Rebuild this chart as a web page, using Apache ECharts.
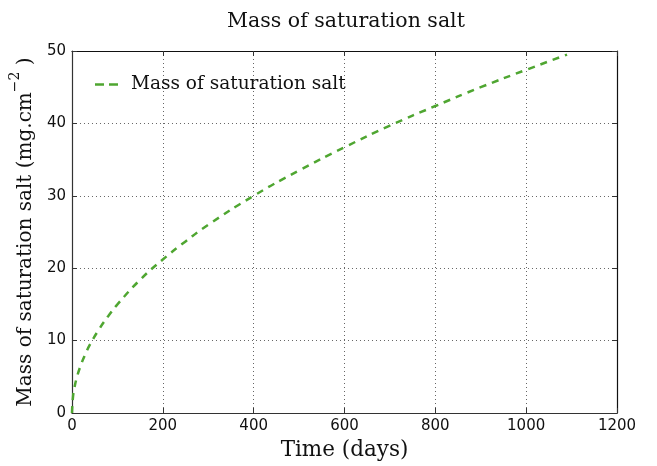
<!DOCTYPE html>
<html>
<head>
<meta charset="utf-8">
<script src="https://cdn.jsdelivr.net/npm/echarts@6/dist/echarts.min.js"></script>
<style>html,body{margin:0;padding:0;background:#fff}#c{width:657px;height:466px}</style>
</head>
<body>
<div id="c"></div>
<script>
// Data
const timeDays = [0, 2, 5, 10, 20, 30, 40, 60, 80, 100, 150, 200, 250, 300, 400, 500, 600, 700, 800, 900, 1000, 1090];
const saltMass = [0, 2.1, 3.35, 4.75, 6.7, 8.2, 9.5, 11.6, 13.4, 15.0, 18.4, 21.2, 23.7, 26.0, 30.0, 33.5, 36.7, 39.7, 42.4, 45.0, 47.4, 49.5];
const xTicks = [0, 200, 400, 600, 800, 1000, 1200];
const yTicks = [0, 10, 20, 30, 40, 50];
const seriesName = 'Mass of saturation salt';
const titleText = 'Mass of saturation salt';
const xName = 'Time (days)';

const serif = '"DejaVu Serif", "Liberation Serif", serif';
const sans = '"DejaVu Sans", sans-serif';
const green = '#4fa631';

const chart = echarts.init(document.getElementById('c'), null, {renderer: 'canvas'});
const points = timeDays.map((t, i) => [t, saltMass[i]]);

chart.setOption({
  animation: false,
  backgroundColor: '#fff',
  title: {
    text: titleText,
    left: 341, top: 6, textAlign: 'center',
    textStyle: {fontFamily: serif, fontSize: 20.5, fontWeight: 'normal', color: '#111'}
  },
  legend: {
    data: [{name: seriesName, icon: 'path://M0,0 L9,0 L9,2.6 L0,2.6 Z M14,0 L23,0 L23,2.6 L14,2.6 Z'}],
    left: 90, top: 70,
    itemWidth: 23, itemHeight: 2.6, itemGap: 10,
    textStyle: {fontFamily: serif, fontSize: 18.5, color: '#111', padding: [0, 0, 0, 8]}
  },
  grid: {left: 71, right: 40, top: 51, bottom: 53, containLabel: false},
  xAxis: [{
    type: 'value', min: 0, max: 1200, interval: 200,
    name: xName, nameLocation: 'middle', nameGap: 26,
    nameTextStyle: {fontFamily: serif, fontSize: 21.5, color: '#111'},
    axisLine: {show: true, lineStyle: {color: '#333', width: 1.2}},
    axisTick: {show: true, inside: true, length: 5, lineStyle: {color: '#333'}},
    axisLabel: {fontFamily: sans, fontSize: 15, color: '#111', margin: 6, formatter: v => String(v)},
    splitLine: {show: true, lineStyle: {type: [1, 3], color: '#666', width: 1}}
  }, {
    type: 'value', min: 0, max: 1200, interval: 200, position: 'top',
    axisLine: {show: true, onZero: false, lineStyle: {color: '#111', width: 1.2}},
    axisTick: {show: true, inside: true, length: 5, lineStyle: {color: '#333'}},
    axisLabel: {show: false}, splitLine: {show: false}
  }],
  yAxis: [{
    type: 'value', min: 0, max: 50, interval: 10,
    name: '{a|Mass of saturation salt (mg.cm}{s|−2}{a| )}',
    nameLocation: 'middle', nameGap: 34,
    nameTextStyle: {
      fontFamily: serif, fontSize: 20, color: '#111',
      rich: {
        a: {fontFamily: serif, fontSize: 20, color: '#111', lineHeight: 28, verticalAlign: 'bottom'},
        s: {fontFamily: serif, fontSize: 14, color: '#111', lineHeight: 28, verticalAlign: 'top'}
      }
    },
    axisLine: {show: true, lineStyle: {color: '#333', width: 1.2}},
    axisTick: {show: true, inside: true, length: 5, lineStyle: {color: '#333'}},
    axisLabel: {fontFamily: sans, fontSize: 15, color: '#111', margin: 6, formatter: v => String(v)},
    splitLine: {show: true, lineStyle: {type: [1, 3], color: '#666', width: 1}}
  }, {
    type: 'value', min: 0, max: 50, interval: 10, position: 'right',
    axisLine: {show: true, onZero: false, lineStyle: {color: '#111', width: 1.2}},
    axisTick: {show: true, inside: true, length: 5, lineStyle: {color: '#333'}},
    axisLabel: {show: false}, splitLine: {show: false}
  }],
  series: [{
    name: seriesName,
    type: 'line',
    data: points,
    smooth: true,
    showSymbol: false, symbol: 'none',
    lineStyle: {color: green, width: 2.5, type: [7, 6]},
    itemStyle: {color: green}
  }]
});
</script>
</body>
</html>
